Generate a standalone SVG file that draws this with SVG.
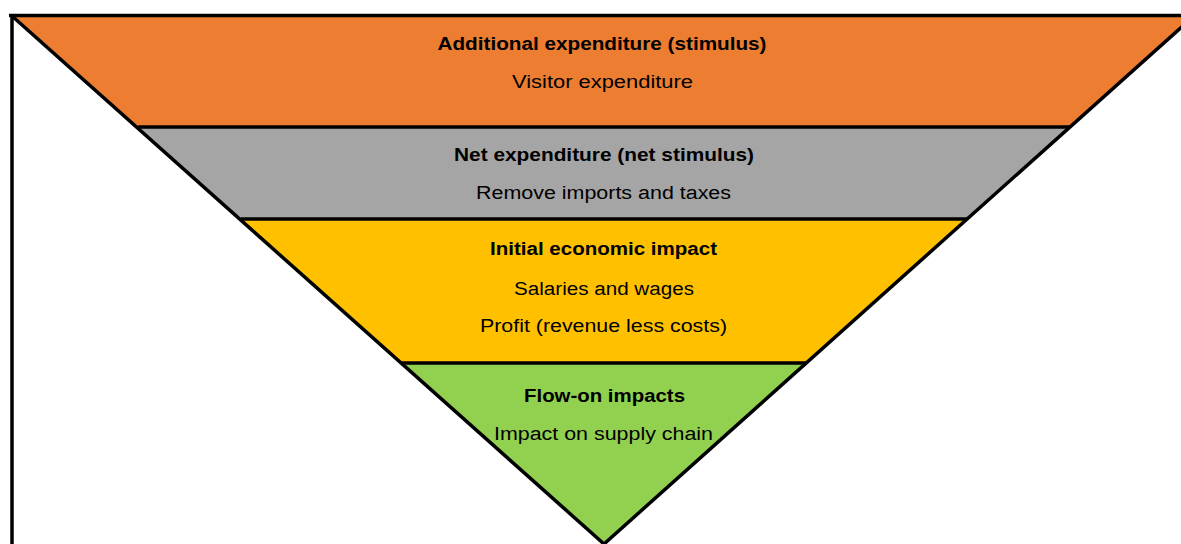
<svg xmlns="http://www.w3.org/2000/svg" width="1181" height="544" viewBox="0 0 1181 544">
<style>
.t{font-family:"Liberation Sans",Arial,sans-serif;font-size:18px;fill:#000;text-anchor:middle}
.b{font-weight:bold}
.band{stroke:none}
.ln{stroke:#000;stroke-width:3.5;fill:none}
</style>
<rect width="1181" height="544" fill="#fff"/>
<g id="band1">
<polygon class="band" fill="#ED7D31" points="14,16 1194,16 1070,127 138,127"/>
<text class="t b" x="602" y="50" textLength="329" lengthAdjust="spacingAndGlyphs">Additional expenditure (stimulus)</text>
<text class="t" x="602.5" y="88" textLength="181" lengthAdjust="spacingAndGlyphs">Visitor expenditure</text>
</g>
<g id="band2">
<polygon class="band" fill="#A5A5A5" points="138,127 1070,127 967,219 241,219"/>
<text class="t b" x="604" y="161" textLength="300" lengthAdjust="spacingAndGlyphs">Net expenditure (net stimulus)</text>
<text class="t" x="603.5" y="199" textLength="255" lengthAdjust="spacingAndGlyphs">Remove imports and taxes</text>
</g>
<g id="band3">
<polygon class="band" fill="#FFC000" points="241,219 967,219 806,363 402,363"/>
<text class="t b" x="603.5" y="255" textLength="227" lengthAdjust="spacingAndGlyphs">Initial economic impact</text>
<text class="t" x="604" y="295" textLength="180" lengthAdjust="spacingAndGlyphs">Salaries and wages</text>
<text class="t" x="603.5" y="332" textLength="247" lengthAdjust="spacingAndGlyphs">Profit (revenue less costs)</text>
</g>
<g id="band4">
<polygon class="band" fill="#92D050" points="402,363 806,363 604,544"/>
<text class="t b" x="604.5" y="402" textLength="161" lengthAdjust="spacingAndGlyphs">Flow-on impacts</text>
<text class="t" x="603.5" y="440" textLength="219" lengthAdjust="spacingAndGlyphs">Impact on supply chain</text>
</g>
<g id="connectors">
<line class="ln" x1="138" y1="127" x2="1070" y2="127"/>
<line class="ln" x1="241" y1="219" x2="967" y2="219"/>
<line class="ln" x1="402" y1="363" x2="806" y2="363"/>
<polyline class="ln" points="12,16 604,544 1194,16"/>
<line class="ln" x1="9" y1="15.5" x2="1181" y2="15.5"/>
<line class="ln" x1="12" y1="14" x2="12" y2="544"/>
</g>
</svg>
